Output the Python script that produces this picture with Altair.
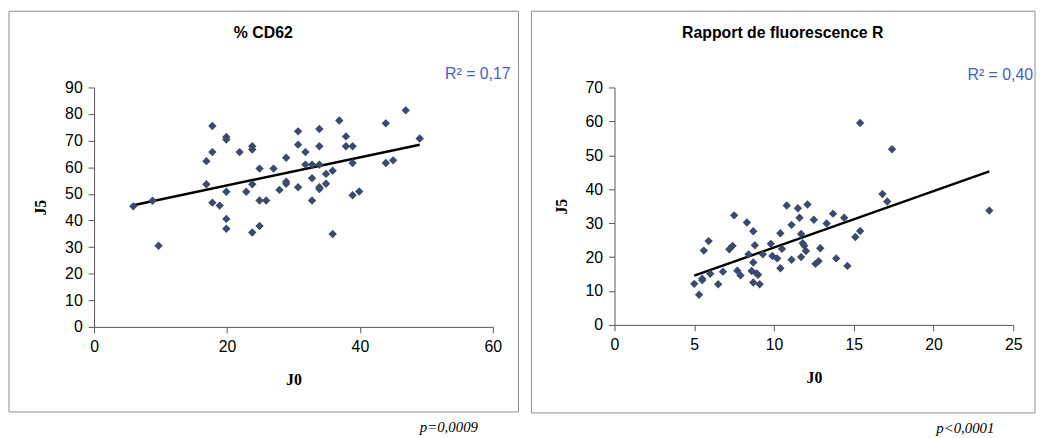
import altair as alt
import pandas as pd

# ---- data ----
cd62_j0 = [5.9, 8.8, 9.7, 16.9, 17.8, 17.8, 16.9, 17.8, 18.9, 19.9, 19.9, 19.9, 19.9, 19.9,
           21.9, 22.9, 23.8, 23.8, 23.8, 23.8, 24.9, 24.9, 24.9, 25.9, 27.0, 27.9, 28.9, 28.9,
           28.9, 30.7, 30.7, 30.7, 31.8, 31.8, 32.8, 32.8, 32.8, 33.9, 33.9, 33.9, 33.9, 33.9,
           34.9, 34.9, 35.9, 35.9, 36.9, 37.9, 37.9, 38.9, 38.9, 38.9, 39.9, 43.9, 43.9, 45.0,
           46.9, 49.0]
cd62_j5 = [45.3, 47.4, 30.5, 62.3, 75.5, 65.7, 53.6, 46.7, 45.6, 71.4, 70.4, 50.8, 40.6, 36.9,
           65.7, 50.8, 67.9, 66.7, 53.6, 35.5, 59.5, 47.5, 37.9, 47.5, 59.5, 51.5, 63.6, 54.6,
           53.8, 73.5, 68.5, 52.5, 65.7, 61.0, 61.0, 55.9, 47.5, 74.4, 67.9, 61.0, 52.5, 51.8,
           57.5, 53.8, 58.7, 34.9, 77.6, 71.6, 67.9, 67.9, 61.6, 49.5, 50.9, 76.5, 61.6, 62.6,
           81.4, 70.8]

fr_j0 = [5.0, 5.3, 5.5, 5.5, 5.6, 5.9, 6.0, 6.5, 6.8, 7.2, 7.4, 7.5, 7.7, 7.9, 8.3, 8.4, 8.7,
         8.7, 8.6, 8.7, 8.8, 8.9, 9.0, 9.1, 9.3, 9.8, 9.9, 10.2, 10.4, 10.4, 10.5, 10.8, 11.1,
         11.1, 11.5, 11.6, 11.7, 11.7, 11.8, 11.9, 12.0, 12.1, 12.5, 12.6, 12.8, 12.9, 13.3,
         13.7, 13.9, 14.4, 14.6, 15.1, 15.4, 15.4, 16.8, 17.1, 17.4, 23.5]
fr_j5 = [12.1, 8.9, 13.2, 13.6, 21.9, 24.7, 15.1, 12.0, 15.7, 22.3, 23.3, 32.3, 16.0, 14.6,
         30.2, 20.8, 27.6, 18.4, 15.9, 12.5, 23.5, 15.2, 14.8, 12.0, 20.8, 23.9, 20.3, 19.6,
         27.0, 16.7, 22.4, 35.2, 29.5, 19.2, 34.4, 31.6, 26.8, 20.0, 24.1, 23.3, 21.8, 35.5,
         31.0, 18.0, 18.8, 22.6, 29.9, 32.8, 19.6, 31.6, 17.4, 25.9, 59.5, 27.7, 38.6, 36.4,
         51.8, 33.7]

titles = ["% CD62", "Rapport de fluorescence R"]
r2_labels = ["R² = 0,17", "R² = 0,40"]
p_labels = ["p=0,0009", "p<0,0001"]
x_ticks = [[0, 20, 40, 60], [0, 5, 10, 15, 20, 25]]
y_ticks = [[0, 10, 20, 30, 40, 50, 60, 70, 80, 90], [0, 10, 20, 30, 40, 50, 60, 70]]

SANS = "Liberation Sans"
SERIF = "Liberation Serif"
PT = "#3d4a6d"
BLUE = "#4a5ec4"


def panel(j0, j5, xt, yt, title, r2, p, w, h, box, title_pos, r2_pos, p_pos):
    df = pd.DataFrame({"J0": j0, "J5": j5})
    base = alt.Chart(df)
    xaxis = alt.Axis(values=xt, grid=False, tickSize=6, labelPadding=6, labelFont=SANS,
                     labelFontSize=16, labelColor="black", labelFlush=False,
                     labelOverlap=False,
                     domainColor="#555", tickColor="#555", title="J0", titleFont=SERIF,
                     titleFontWeight="bold", titleFontSize=16, titleColor="black",
                     titleX=w / 2, titleY=53, titleAlign="center", titleBaseline="middle")
    yaxis = alt.Axis(values=yt, grid=False, tickSize=6, labelPadding=6, labelFont=SANS,
                     labelFontSize=16, labelColor="black", labelOverlap=False,
                     domainColor="#555",
                     tickColor="#555", title="J5", titleFont=SERIF, titleFontWeight="bold",
                     titleFontSize=16, titleColor="black", titleAngle=270, titleX=-54,
                     titleY=h / 2, titleAlign="center", titleBaseline="middle")
    xs = alt.Scale(domain=[xt[0], xt[-1]], nice=False)
    ys = alt.Scale(domain=[yt[0], yt[-1]], nice=False)

    one = alt.Chart(pd.DataFrame({"k": [0]}))
    frame = one.mark_rect(fillOpacity=0, stroke="#8c8c8c", strokeWidth=1).encode(
        x=alt.value(box[0]), x2=alt.value(box[1]), y=alt.value(box[2]), y2=alt.value(box[3]))
    line = base.transform_regression("J0", "J5").mark_line(color="black", strokeWidth=2.5).encode(
        x=alt.X("J0:Q", scale=xs, axis=xaxis), y=alt.Y("J5:Q", scale=ys, axis=yaxis))
    pts = base.mark_point(shape="diamond", filled=True, size=72, color=PT, opacity=1).encode(
        x=alt.X("J0:Q", scale=xs, axis=xaxis), y=alt.Y("J5:Q", scale=ys, axis=yaxis))
    ttl = one.mark_text(font=SANS, fontSize=16, fontWeight="bold", color="black",
                        align="center", baseline="middle").encode(
        x=alt.value(title_pos[0]), y=alt.value(title_pos[1]), text=alt.value(title))
    r2t = one.mark_text(font=SANS, fontSize=16, color=BLUE, align="right",
                        baseline="middle").encode(
        x=alt.value(r2_pos[0]), y=alt.value(r2_pos[1]), text=alt.value(r2))
    pt = one.mark_text(font=SERIF, fontSize=15, fontStyle="italic", color="black",
                       align="right", baseline="middle").encode(
        x=alt.value(p_pos[0]), y=alt.value(p_pos[1]), text=alt.value(p))
    return alt.layer(frame, line, pts, ttl, r2t, pt).properties(width=w, height=h)


left = panel(cd62_j0, cd62_j5, x_ticks[0], y_ticks[0], titles[0], r2_labels[0], p_labels[0],
             403, 242, (-86, 429, -77, 328), (171, -55), (421, -14), (388, 343))
right = panel(fr_j0, fr_j5, x_ticks[1], y_ticks[1], titles[1], r2_labels[1], p_labels[1],
              403, 240, (-84, 425, -77, 329), (170, -55), (423, -13), (384, 344))

chart = alt.hconcat(left, right, spacing=11).properties(
    padding=0, background="white").configure_view(strokeWidth=0)

chart.save("out.html", embed_options={"renderer": "svg", "actions": False})
